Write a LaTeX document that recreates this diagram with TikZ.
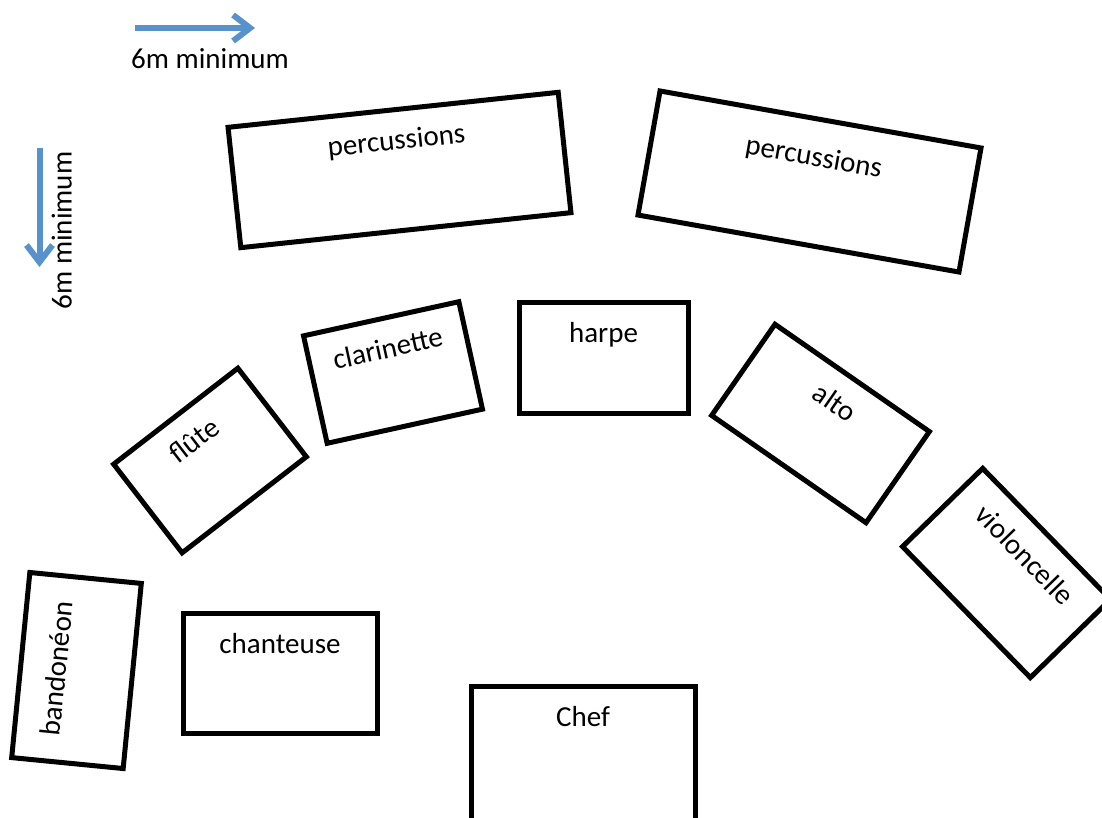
\documentclass[tikz,border=0pt]{standalone}
\usepackage{fontspec}
\setmainfont{Carlito}
\usetikzlibrary{arrows.meta}
\definecolor{flecheblue}{RGB}{88,146,204}
\tikzset{
	pupitre/.style 2 args={
		draw, line width=5pt,
		inner sep=0pt,
		minimum width=#1pt,
		text height=40pt,
		text depth=#2pt-40pt,
		font=\fontsize{29pt}{35pt}\selectfont},
	mesure/.style={
		draw=flecheblue, line width=6pt,
		-{Straight Barb[length=17pt,width=26pt]}},
	cote/.style={
		inner sep=0pt,
		font=\fontsize{29pt}{35pt}\selectfont},
}
\begin{document}
\begin{tikzpicture}[x=1pt, y=-1pt]
\path[use as bounding box, clip] (0,0) rectangle (1102,817);
\node[pupitre={332}{121}, rotate=6.05] (percgauche) at (399.5,170) {percussions};
\node[pupitre={326}{126}, rotate=-10.07, text height=47pt, text depth=79pt] (percdroite) at (809.5,181.5) {percussions};
\node[pupitre={157}{112}, rotate=37.7] (flute) at (210,460.5) {flûte};
\node[pupitre={159}{110}, rotate=12.4] (clarinette) at (393,372.5) {clarinette};
\node[pupitre={169}{111}] (harpe) at (603.5,357.5) {harpe};
\node[pupitre={188}{111}, rotate=-34.8] (alto) at (820.5,423.5) {alto};
\node[pupitre={183}{112}, rotate=-45.7] (violoncelle) at (1006.5,573) {violoncelle};
\node[pupitre={186}{112}, rotate=84.4, text height=46pt, text depth=66pt] (bandoneon) at (76.5,670.5) {bandonéon};
\node[pupitre={194}{120}] (chanteuse) at (280,673) {chanteuse};
\node[pupitre={224}{160}] (chef) at (583,766) {Chef};
\coordinate (hdebut) at (135,28);
\coordinate (hfin) at (255,28);
\draw[mesure] (hdebut) -- (hfin);
\node[cote, anchor=base] (hcote) at (210,68) {6m minimum};
\coordinate (vdebut) at (39.5,148);
\coordinate (vfin) at (39.5,267);
\draw[mesure] (vdebut) -- (vfin);
\node[cote, anchor=base, rotate=90] (vcote) at (71.5,230.5) {6m minimum};
\end{tikzpicture}
\end{document}
